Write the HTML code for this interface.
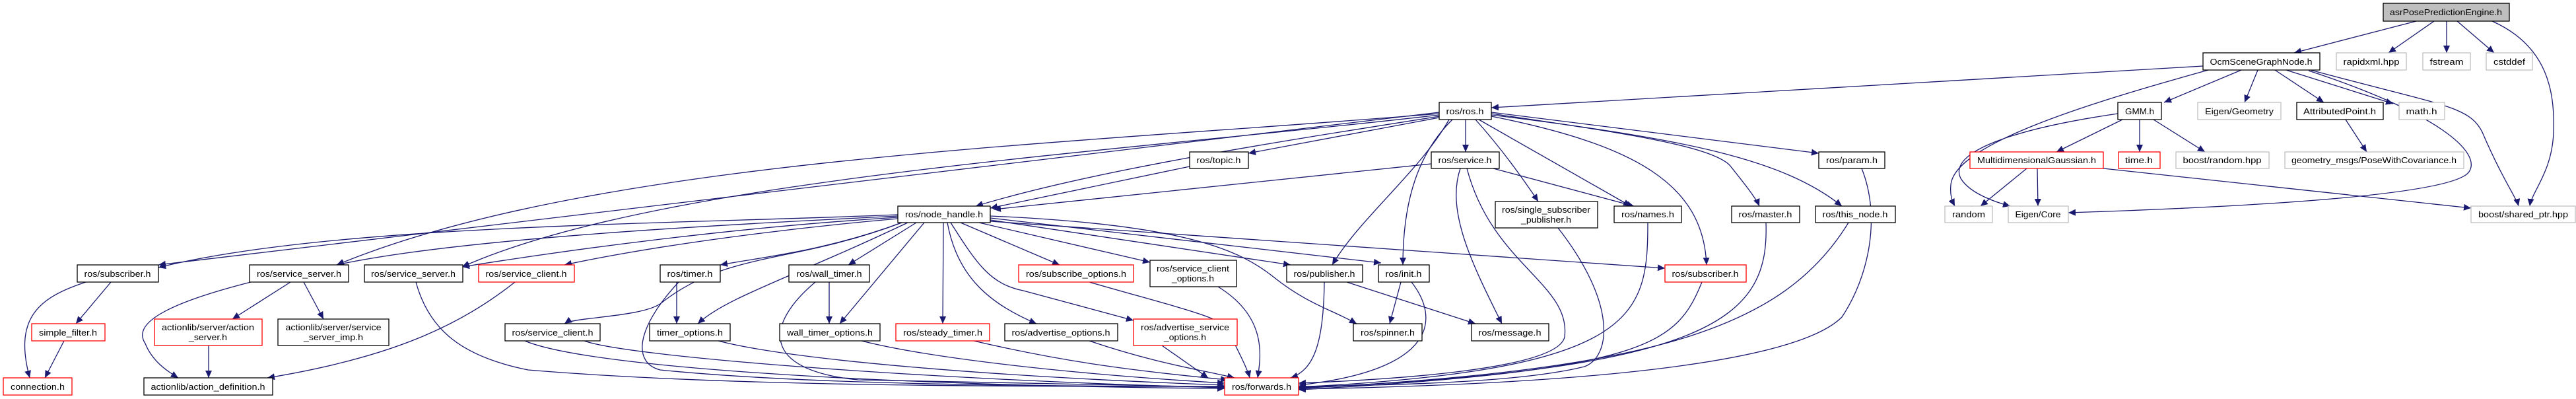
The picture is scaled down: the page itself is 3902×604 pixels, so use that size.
<!DOCTYPE html>
<html><head><meta charset="utf-8"><style>
html,body{margin:0;padding:0;background:#fff;}
svg{display:block;}
text{font-family:"Liberation Sans",sans-serif;font-size:13px;fill:#000;}
.e{fill:none;stroke:#191970;stroke-width:1.3;marker-end:url(#a);}
.n{fill:#fff;stroke:#000;stroke-width:1.3;}
.r{fill:#fff;stroke:#ff0000;stroke-width:1.3;}
.g{fill:#fff;stroke:#bfbfbf;stroke-width:1.3;}
</style></head><body>
<svg width="3902" height="604" viewBox="0 0 3902 604" xmlns="http://www.w3.org/2000/svg">
<defs><marker id="a" markerUnits="userSpaceOnUse" markerWidth="12" markerHeight="10" refX="11" refY="5" orient="auto"><path d="M0,0 L11,5 L0,10 z" fill="#191970"/></marker></defs>

<!-- edges -->
<g>
<path class="e" d="M3660,32 L3475,80"/>
<path class="e" d="M3687,32 L3618,80"/>
<path class="e" d="M3706,32 L3706,80"/>
<path class="e" d="M3722,32 L3778,80"/>
<path class="e" d="M3775,32 C3860,70 3870,140 3868,200 C3866,260 3835,290 3832,312"/>

<path class="e" d="M3337,100 L2259,163"/>
<path class="e" d="M3395,106 L3278,155"/>
<path class="e" d="M3420,106 L3400,155"/>
<path class="e" d="M3446,106 L3520,155"/>
<path class="e" d="M3463,106 L3625,157"/>
<path class="e" d="M3345,106 C3150,160 2960,220 2955,280 C2953,300 2960,310 2961,312"/>
<path class="e" d="M3497,107 C3690,170 3760,230 3740,260 C3720,290 3500,310 3133,322"/>
<path class="e" d="M3500,106 C3700,160 3740,160 3760,200 C3790,270 3812,300 3815,312"/>

<path class="e" d="M3215,181 L3115,230"/>
<path class="e" d="M3241,181 L3241,230"/>
<path class="e" d="M3262,181 L3340,230"/>
<path class="e" d="M3208,172 C3050,195 2950,230 2970,270 C2985,295 3030,308 3045,312"/>
<path class="e" d="M3553,181 L3585,230"/>
<path class="e" d="M3070,255 L3000,312"/>
<path class="e" d="M3086,255 L3087,312"/>
<path class="e" d="M3186,255 L3743,315"/>

<!-- ros/ros.h -->
<path class="e" d="M2180,170 L240,401"/>
<path class="e" d="M2180,172 C1600,220 900,240 510,401"/>
<path class="e" d="M2180,174 C1700,230 1000,270 700,404"/>
<path class="e" d="M2181,176 C1900,220 1650,260 1478,312"/>
<path class="e" d="M2180,178 L1891,232"/>
<path class="e" d="M2220,181 L2220,230"/>
<path class="e" d="M2259,170 L2755,232"/>
<path class="e" d="M2235,181 C2270,220 2300,260 2330,305"/>
<path class="e" d="M2240,181 L2470,312"/>
<path class="e" d="M2259,172 C2450,200 2590,220 2620,250 C2640,275 2660,300 2665,312"/>
<path class="e" d="M2259,174 C2550,210 2700,240 2790,312"/>
<path class="e" d="M2200,181 C2150,230 2125,300 2125,401"/>
<path class="e" d="M2259,176 C2480,220 2580,280 2585,401"/>
<path class="e" d="M2195,181 C2150,260 2060,330 2018,401"/>

<path class="e" d="M1802,252 L1500,315"/>
<path class="e" d="M2168,248 L1505,317"/>
<path class="e" d="M2262,255 L2475,312"/>
<path class="e" d="M2212,255 C2190,320 2230,400 2275,490"/>
<path class="e" d="M2222,255 C2260,400 2380,430 2370,510 C2360,560 2100,575 1967,580"/>

<!-- node_handle -->
<path class="e" d="M1360,325 C1000,340 500,340 240,405"/>
<path class="e" d="M1360,327 C1100,340 700,360 510,401"/>
<path class="e" d="M1360,329 C1100,345 850,380 700,404"/>
<path class="e" d="M1360,331 C1200,345 1000,370 855,401"/>
<path class="e" d="M1366,337 C1200,400 1100,380 1000,460 C970,480 870,480 855,490"/>
<path class="e" d="M1366,337 C1250,380 1150,390 1091,401"/>
<path class="e" d="M1375,337 C1200,420 1100,450 1057,490"/>
<path class="e" d="M1388,337 L1285,401"/>
<path class="e" d="M1400,337 L1272,490"/>
<path class="e" d="M1429,337 L1428,490"/>
<path class="e" d="M1435,337 C1450,420 1500,460 1570,490"/>
<path class="e" d="M1440,337 C1480,400 1500,430 1550,440 L1717,485"/>
<path class="e" d="M1455,337 L1605,401"/>
<path class="e" d="M1483,337 L1742,397"/>
<path class="e" d="M1500,333 L1955,401"/>
<path class="e" d="M1500,327 C1800,340 1880,380 1930,420 C1980,460 2020,470 2055,490"/>
<path class="e" d="M1500,330 L2092,398"/>
<path class="e" d="M1500,335 L2522,406"/>

<!-- lower -->
<path class="e" d="M130,427 C60,450 20,480 45,572"/>
<path class="e" d="M168,427 L115,490"/>
<path class="e" d="M97,516 L68,572"/>
<path class="e" d="M440,427 L352,483"/>
<path class="e" d="M460,427 L490,483"/>
<path class="e" d="M380,427 C250,460 200,490 220,520 C230,545 250,560 270,572"/>
<path class="e" d="M316,523 L316,572"/>
<path class="e" d="M780,427 C700,490 600,540 405,572"/>
<path class="e" d="M630,427 C650,500 700,540 800,560 C1100,585 1500,585 1855,585"/>
<path class="e" d="M1025,427 L1025,490"/>
<path class="e" d="M1256,427 L1256,490"/>
<path class="e" d="M1028,427 C960,500 960,550 1000,560 C1200,580 1500,585 1855,585"/>
<path class="e" d="M1235,427 C1160,490 1150,560 1300,575 L1855,586"/>
<path class="e" d="M2122,427 L2105,490"/>
<path class="e" d="M2138,427 C2180,480 2180,560 1967,583"/>
<path class="e" d="M2006,427 C2005,520 1990,560 1955,572"/>
<path class="e" d="M2040,427 L2235,490"/>
<path class="e" d="M2360,345 C2450,460 2440,540 2400,555 C2300,580 2100,583 1967,585"/>
<path class="e" d="M2496,337 C2496,480 2480,560 1967,586"/>
<path class="e" d="M2675,337 C2680,480 2600,560 1967,587"/>
<path class="e" d="M2800,337 C2700,500 2500,560 1967,588"/>
<path class="e" d="M2820,255 C2850,330 2830,420 2790,480 C2700,570 2200,585 1967,589"/>
<path class="e" d="M2578,427 C2540,520 2500,560 1967,590"/>
<path class="e" d="M885,516 C950,540 1400,575 1855,587"/>
<path class="e" d="M1088,516 C1200,545 1500,570 1855,583"/>
<path class="e" d="M1305,516 C1400,540 1600,565 1855,580"/>
<path class="e" d="M1475,516 C1600,545 1700,560 1860,575"/>
<path class="e" d="M1650,516 C1750,550 1820,560 1870,572"/>
<path class="e" d="M1760,523 L1830,572"/>
<path class="e" d="M1650,427 C1800,470 1850,480 1860,500 C1880,540 1890,560 1893,572"/>
<path class="e" d="M1845,434 C1920,480 1910,540 1905,572"/>
<path class="e" d="M795,516 C900,560 1400,585 1855,588"/>
</g>

<!-- nodes -->
<g>
<rect x="3610" y="5" width="191" height="27" fill="#bfbfbf" stroke="#000" stroke-width="1.3"/><text x="3705" y="23" text-anchor="middle" textLength="170" lengthAdjust="spacingAndGlyphs">asrPosePredictionEngine.h</text>
<rect class="n" x="3337" y="80" width="177" height="26"/><text x="3425" y="98" text-anchor="middle" textLength="155" lengthAdjust="spacingAndGlyphs">OcmSceneGraphNode.h</text>
<rect class="g" x="3539" y="80" width="106" height="26"/><text x="3592" y="98" text-anchor="middle" textLength="85" lengthAdjust="spacingAndGlyphs">rapidxml.hpp</text>
<rect class="g" x="3670" y="80" width="72" height="26"/><text x="3706" y="98" text-anchor="middle" textLength="51" lengthAdjust="spacingAndGlyphs">fstream</text>
<rect class="g" x="3766" y="80" width="70" height="26"/><text x="3801" y="98" text-anchor="middle" textLength="48" lengthAdjust="spacingAndGlyphs">cstddef</text>
<rect class="n" x="3208" y="155" width="66" height="26"/><text x="3241" y="173" text-anchor="middle" textLength="44" lengthAdjust="spacingAndGlyphs">GMM.h</text>
<rect class="g" x="3329" y="155" width="126" height="26"/><text x="3392" y="173" text-anchor="middle" textLength="104" lengthAdjust="spacingAndGlyphs">Eigen/Geometry</text>
<rect class="n" x="3479" y="155" width="131" height="26"/><text x="3544" y="173" text-anchor="middle" textLength="110" lengthAdjust="spacingAndGlyphs">AttributedPoint.h</text>
<rect class="g" x="3634" y="155" width="69" height="26"/><text x="3668" y="173" text-anchor="middle" textLength="47" lengthAdjust="spacingAndGlyphs">math.h</text>
<rect class="r" x="2984" y="230" width="202" height="25"/><text x="3085" y="247" text-anchor="middle" textLength="180" lengthAdjust="spacingAndGlyphs">MultidimensionalGaussian.h</text>
<rect class="r" x="3209" y="230" width="63" height="25"/><text x="3240" y="247" text-anchor="middle" textLength="42" lengthAdjust="spacingAndGlyphs">time.h</text>
<rect class="g" x="3296" y="230" width="141" height="25"/><text x="3366" y="247" text-anchor="middle" textLength="119" lengthAdjust="spacingAndGlyphs">boost/random.hpp</text>
<rect class="g" x="3461" y="230" width="271" height="25"/><text x="3596" y="247" text-anchor="middle" textLength="250" lengthAdjust="spacingAndGlyphs">geometry_msgs/PoseWithCovariance.h</text>
<rect class="g" x="2946" y="312" width="72" height="25"/><text x="2982" y="329" text-anchor="middle" textLength="50" lengthAdjust="spacingAndGlyphs">random</text>
<rect class="g" x="3042" y="312" width="91" height="25"/><text x="3087" y="329" text-anchor="middle" textLength="69" lengthAdjust="spacingAndGlyphs">Eigen/Core</text>
<rect class="g" x="3743" y="312" width="158" height="25"/><text x="3822" y="329" text-anchor="middle" textLength="136" lengthAdjust="spacingAndGlyphs">boost/shared_ptr.hpp</text>

<rect class="n" x="2180" y="155" width="79" height="26"/><text x="2219" y="173" text-anchor="middle" textLength="57" lengthAdjust="spacingAndGlyphs">ros/ros.h</text>
<rect class="n" x="1802" y="230" width="89" height="25"/><text x="1846" y="247" text-anchor="middle" textLength="67" lengthAdjust="spacingAndGlyphs">ros/topic.h</text>
<rect class="n" x="2168" y="230" width="103" height="25"/><text x="2219" y="247" text-anchor="middle" textLength="81" lengthAdjust="spacingAndGlyphs">ros/service.h</text>
<rect class="n" x="2755" y="230" width="100" height="25"/><text x="2805" y="247" text-anchor="middle" textLength="78" lengthAdjust="spacingAndGlyphs">ros/param.h</text>
<rect class="n" x="1360" y="312" width="140" height="25"/><text x="1430" y="329" text-anchor="middle" textLength="118" lengthAdjust="spacingAndGlyphs">ros/node_handle.h</text>
<rect class="n" x="2265" y="305" width="155" height="40"/><text x="2342" y="322" text-anchor="middle" textLength="134" lengthAdjust="spacingAndGlyphs">ros/single_subscriber</text><text x="2342" y="337" text-anchor="middle" textLength="76" lengthAdjust="spacingAndGlyphs">_publisher.h</text>
<rect class="n" x="2445" y="312" width="102" height="25"/><text x="2496" y="329" text-anchor="middle" textLength="80" lengthAdjust="spacingAndGlyphs">ros/names.h</text>
<rect class="n" x="2623" y="312" width="103" height="25"/><text x="2674" y="329" text-anchor="middle" textLength="81" lengthAdjust="spacingAndGlyphs">ros/master.h</text>
<rect class="n" x="2750" y="312" width="121" height="25"/><text x="2810" y="329" text-anchor="middle" textLength="99" lengthAdjust="spacingAndGlyphs">ros/this_node.h</text>

<rect class="n" x="117" y="401" width="123" height="26"/><text x="178" y="419" text-anchor="middle" textLength="101" lengthAdjust="spacingAndGlyphs">ros/subscriber.h</text>
<rect class="n" x="378" y="401" width="150" height="26"/><text x="453" y="419" text-anchor="middle" textLength="128" lengthAdjust="spacingAndGlyphs">ros/service_server.h</text>
<rect class="n" x="552" y="401" width="149" height="26"/><text x="626" y="419" text-anchor="middle" textLength="128" lengthAdjust="spacingAndGlyphs">ros/service_server.h</text>
<rect class="r" x="725" y="401" width="145" height="26"/><text x="797" y="419" text-anchor="middle" textLength="123" lengthAdjust="spacingAndGlyphs">ros/service_client.h</text>
<rect class="n" x="1000" y="401" width="91" height="26"/><text x="1045" y="419" text-anchor="middle" textLength="69" lengthAdjust="spacingAndGlyphs">ros/timer.h</text>
<rect class="n" x="1195" y="401" width="122" height="26"/><text x="1256" y="419" text-anchor="middle" textLength="99" lengthAdjust="spacingAndGlyphs">ros/wall_timer.h</text>
<rect class="r" x="1543" y="401" width="174" height="26"/><text x="1630" y="419" text-anchor="middle" textLength="152" lengthAdjust="spacingAndGlyphs">ros/subscribe_options.h</text>
<rect class="n" x="1742" y="394" width="131" height="40"/><text x="1807" y="411" text-anchor="middle" textLength="110" lengthAdjust="spacingAndGlyphs">ros/service_client</text><text x="1807" y="426" text-anchor="middle" textLength="64" lengthAdjust="spacingAndGlyphs">_options.h</text>
<rect class="n" x="1949" y="401" width="115" height="26"/><text x="2006" y="419" text-anchor="middle" textLength="93" lengthAdjust="spacingAndGlyphs">ros/publisher.h</text>
<rect class="n" x="2088" y="401" width="77" height="26"/><text x="2126" y="419" text-anchor="middle" textLength="55" lengthAdjust="spacingAndGlyphs">ros/init.h</text>
<rect class="r" x="2522" y="401" width="123" height="26"/><text x="2583" y="419" text-anchor="middle" textLength="101" lengthAdjust="spacingAndGlyphs">ros/subscriber.h</text>

<rect class="r" x="48" y="490" width="111" height="26"/><text x="103" y="508" text-anchor="middle" textLength="88" lengthAdjust="spacingAndGlyphs">simple_filter.h</text>
<rect class="r" x="234" y="483" width="163" height="40"/><text x="315" y="500" text-anchor="middle" textLength="140" lengthAdjust="spacingAndGlyphs">actionlib/server/action</text><text x="315" y="515" text-anchor="middle" textLength="58" lengthAdjust="spacingAndGlyphs">_server.h</text>
<rect class="n" x="421" y="483" width="168" height="40"/><text x="505" y="500" text-anchor="middle" textLength="145" lengthAdjust="spacingAndGlyphs">actionlib/server/service</text><text x="505" y="515" text-anchor="middle" textLength="90" lengthAdjust="spacingAndGlyphs">_server_imp.h</text>
<rect class="n" x="765" y="490" width="144" height="26"/><text x="837" y="508" text-anchor="middle" textLength="123" lengthAdjust="spacingAndGlyphs">ros/service_client.h</text>
<rect class="n" x="984" y="490" width="122" height="26"/><text x="1045" y="508" text-anchor="middle" textLength="100" lengthAdjust="spacingAndGlyphs">timer_options.h</text>
<rect class="n" x="1181" y="490" width="152" height="26"/><text x="1257" y="508" text-anchor="middle" textLength="130" lengthAdjust="spacingAndGlyphs">wall_timer_options.h</text>
<rect class="r" x="1357" y="490" width="142" height="26"/><text x="1428" y="508" text-anchor="middle" textLength="120" lengthAdjust="spacingAndGlyphs">ros/steady_timer.h</text>
<rect class="n" x="1522" y="490" width="171" height="26"/><text x="1607" y="508" text-anchor="middle" textLength="149" lengthAdjust="spacingAndGlyphs">ros/advertise_options.h</text>
<rect class="r" x="1717" y="483" width="157" height="40"/><text x="1795" y="500" text-anchor="middle" textLength="134" lengthAdjust="spacingAndGlyphs">ros/advertise_service</text><text x="1795" y="515" text-anchor="middle" textLength="64" lengthAdjust="spacingAndGlyphs">_options.h</text>
<rect class="n" x="2050" y="490" width="104" height="26"/><text x="2102" y="508" text-anchor="middle" textLength="82" lengthAdjust="spacingAndGlyphs">ros/spinner.h</text>
<rect class="n" x="2229" y="490" width="117" height="26"/><text x="2287" y="508" text-anchor="middle" textLength="95" lengthAdjust="spacingAndGlyphs">ros/message.h</text>

<rect class="r" x="5" y="572" width="104" height="26"/><text x="57" y="590" text-anchor="middle" textLength="82" lengthAdjust="spacingAndGlyphs">connection.h</text>
<rect class="n" x="218" y="572" width="195" height="26"/><text x="315" y="590" text-anchor="middle" textLength="173" lengthAdjust="spacingAndGlyphs">actionlib/action_definition.h</text>
<rect class="r" x="1855" y="572" width="112" height="26"/><text x="1911" y="590" text-anchor="middle" textLength="90" lengthAdjust="spacingAndGlyphs">ros/forwards.h</text>
</g>
</svg>
</body></html>
